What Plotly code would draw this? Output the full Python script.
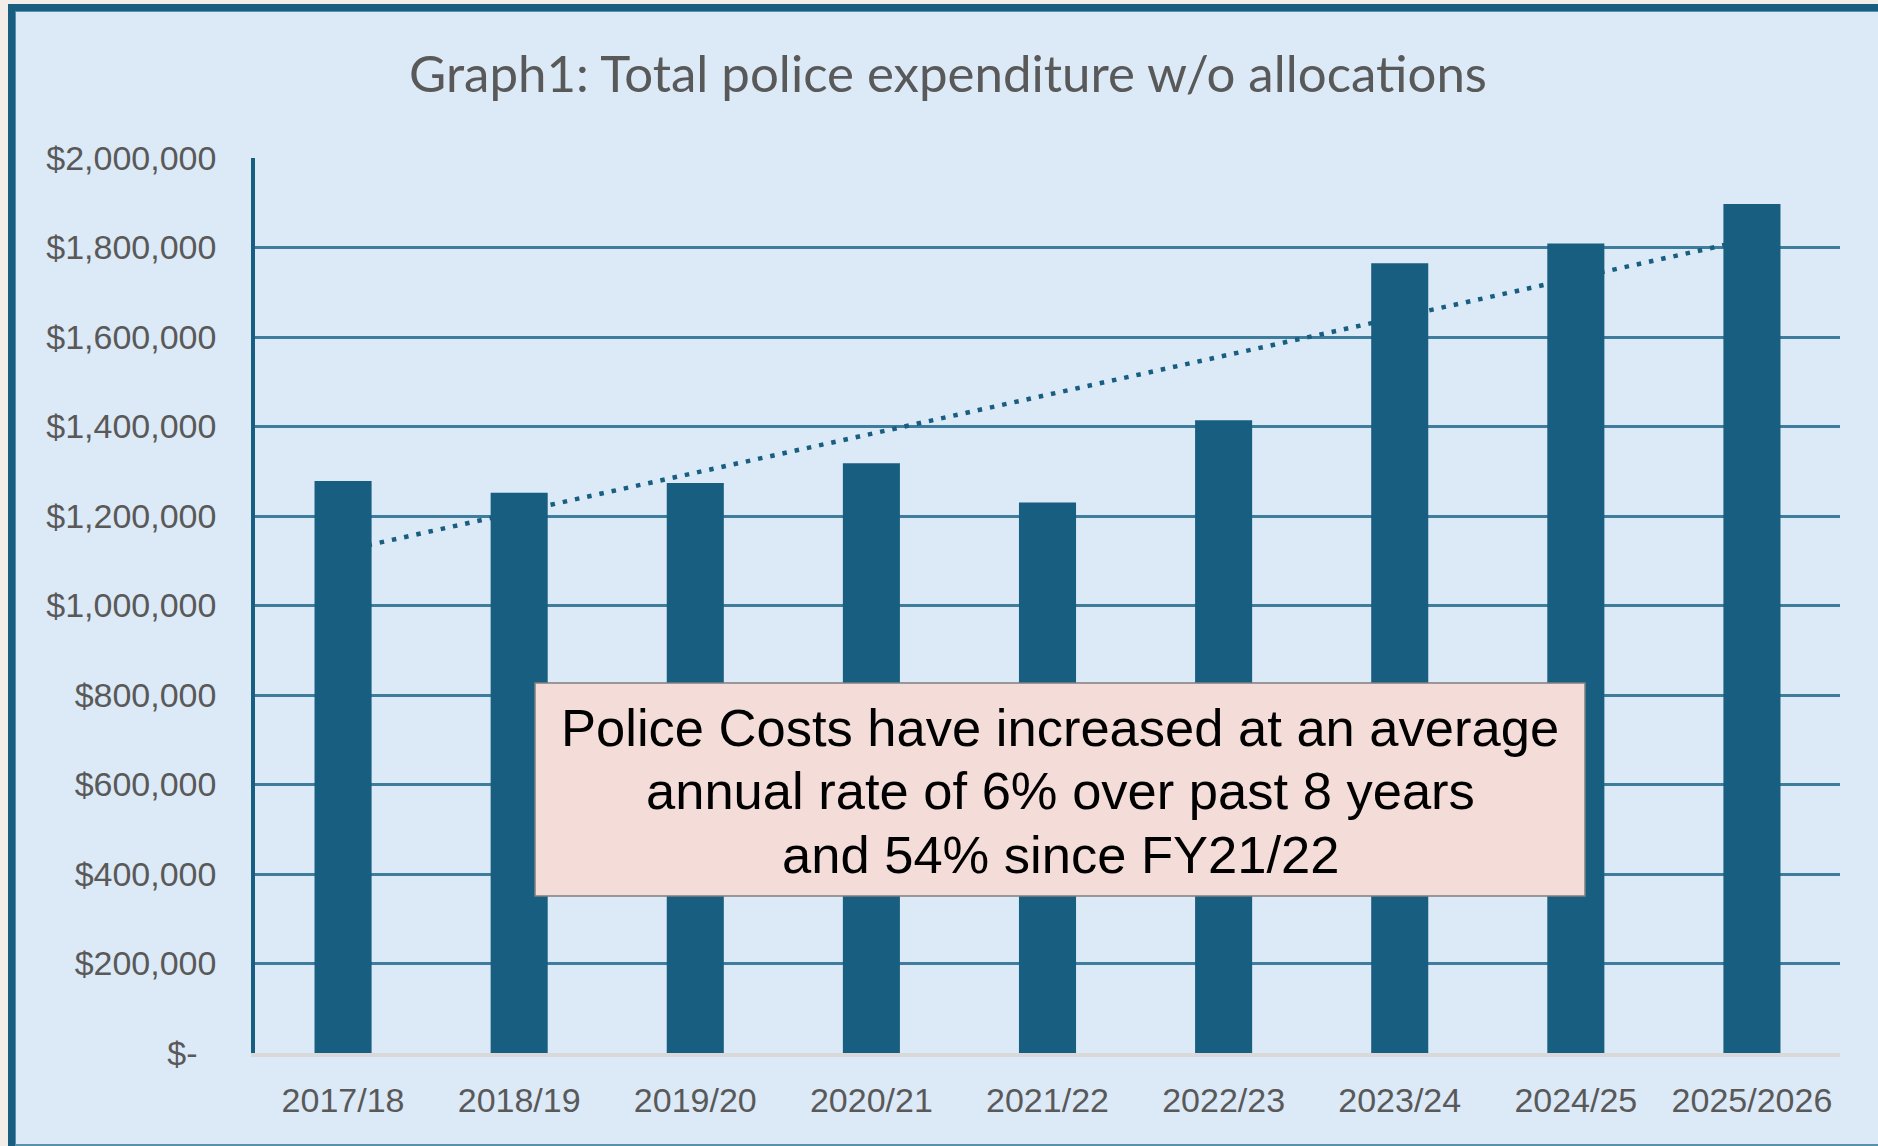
import numpy as np
import plotly.graph_objects as go

# ---- data ----
categories = ["2017/18", "2018/19", "2019/20", "2020/21", "2021/22",
              "2022/23", "2023/24", "2024/25", "2025/2026"]
expenditure = [1278000, 1252000, 1274000, 1318000, 1230000,
               1414000, 1765000, 1809000, 1897000]
y_tick_values = [0, 200000, 400000, 600000, 800000, 1000000,
                 1200000, 1400000, 1600000, 1800000, 2000000]
y_tick_labels = ["$-\u00a0\u00a0", "$200,000", "$400,000", "$600,000", "$800,000",
                 "$1,000,000", "$1,200,000", "$1,400,000", "$1,600,000",
                 "$1,800,000", "$2,000,000"]
title_text = "Graph1: Total police expenditure w/o allocations"
note_lines = ["Police Costs have increased at an average",
              "annual rate of 6% over past 8 years",
              "and 54% since FY21/22"]

# linear trendline (least squares, like Excel)
idx = np.arange(len(expenditure))
slope, intercept = np.polyfit(idx, expenditure, 1)
trend = (intercept + slope * idx).tolist()

# ---- geometry ----
W, H = 1878, 1146
L, R, T, B = 255, 38, 158, 93
PW, PH = W - L - R, H - T - B


def px(x):
    return (x - L) / PW


def py(y):
    return (H - B - y) / PH


DARK = "#175e80"
LIGHT = "#dce9f6"

fig = go.Figure()

# trendline on the base axes (drawn beneath the bars)
fig.add_trace(go.Scatter(
    x=categories, y=trend, mode="lines",
    line=dict(color=DARK, width=4.5, dash="4.5px,8px"),
    hoverinfo="skip", showlegend=False,
))

# bars on overlaying axes so they cover the trendline
fig.add_trace(go.Bar(
    x=categories, y=expenditure, marker=dict(color=DARK, line=dict(width=0)),
    xaxis="x2", yaxis="y2", showlegend=False,
))

shapes = [
    dict(type="rect", xref="paper", yref="paper", layer="below",
         x0=px(8), x1=px(W + 30), y0=py(4), y1=py(H + 30),
         fillcolor=DARK, line=dict(width=0)),
    dict(type="rect", xref="paper", yref="paper", layer="below",
         x0=px(15), x1=px(W + 30), y0=py(11), y1=py(H + 30),
         fillcolor="#5b8fb0", line=dict(width=0)),
    dict(type="rect", xref="paper", yref="paper", layer="below",
         x0=px(16), x1=px(W + 30), y0=py(12), y1=py(1144),
         fillcolor=LIGHT, line=dict(width=0)),
    dict(type="rect", xref="paper", yref="paper", layer="above",
         x0=px(535), x1=px(1585), y0=py(683), y1=py(896),
         fillcolor="#f4dcd8", line=dict(color="#7f7f7f", width=1.5)),
]

annotations = []
for line_text, yc in zip(note_lines, [727.5, 790.5, 854]):
    annotations.append(dict(
        xref="paper", yref="paper", x=px(1060), y=py(yc),
        xanchor="center", yanchor="middle", showarrow=False,
        text=line_text,
        font=dict(family="Liberation Sans, Arial, sans-serif", size=52.5, color="#000000"),
    ))

fig.update_layout(
    width=W, height=H,
    margin=dict(l=L, r=R, t=T, b=B, pad=0),
    paper_bgcolor="#f2ede8",
    plot_bgcolor="rgba(0,0,0,0)",
    bargap=0.676,
    showlegend=False,
    title=dict(
        text=title_text, x=948 / W, xanchor="center", y=1 - 74 / H, yanchor="middle",
        font=dict(family="Lato, sans-serif", size=51, color="#595959"),
    ),
    xaxis=dict(
        type="category", categoryorder="array", categoryarray=categories,
        range=[-0.5, len(categories) - 0.5],
        showgrid=False, zeroline=False,
        showline=True, linecolor="#d9d9d9", linewidth=4,
        ticks="", ticklabelstandoff=14,
        tickfont=dict(family="Liberation Sans, Arial, sans-serif", size=34, color="#595959"),
    ),
    yaxis=dict(
        range=[0, 2000000], tickmode="array",
        tickvals=y_tick_values, ticktext=y_tick_labels,
        showgrid=True, gridcolor="#3f7d9c", gridwidth=3,
        zeroline=False,
        showline=True, linecolor=DARK, linewidth=3.5,
        ticks="", ticklabelstandoff=28,
        tickfont=dict(family="Liberation Sans, Arial, sans-serif", size=34, color="#595959"),
    ),
    xaxis2=dict(
        type="category", categoryorder="array", categoryarray=categories,
        range=[-0.5, len(categories) - 0.5],
        overlaying="x", visible=False,
    ),
    yaxis2=dict(range=[0, 2000000], overlaying="y", visible=False),
    shapes=shapes,
    annotations=annotations,
)

fig.write_html("out.html")
